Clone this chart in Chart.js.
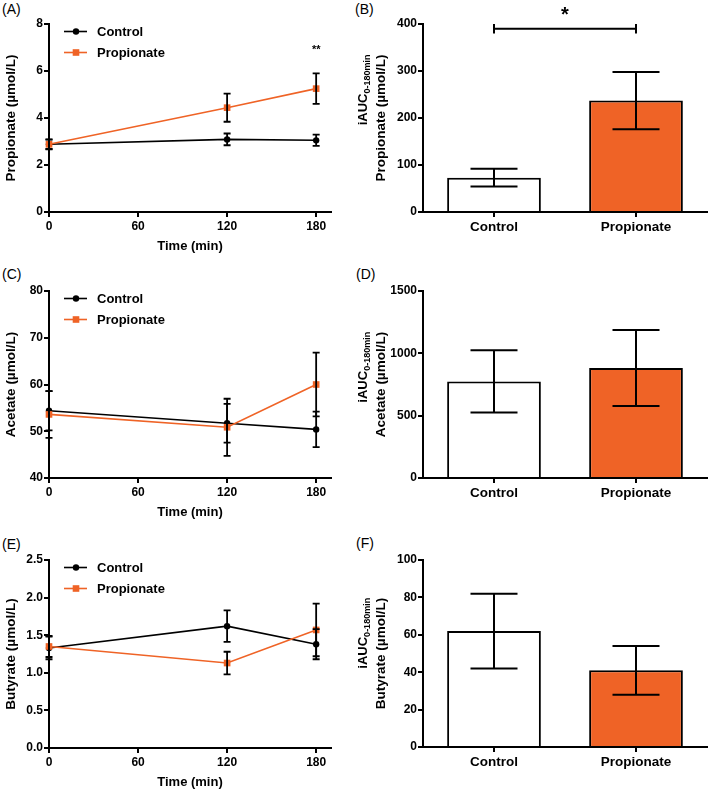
<!DOCTYPE html>
<html>
<head>
<meta charset="utf-8">
<script src="https://cdn.jsdelivr.net/npm/chart.js@4"></script>
<style>
  html, body { margin: 0; padding: 0; background: #fff; }
  body { position: relative; width: 709px; height: 791px; overflow: hidden; }
  canvas { position: absolute; }
  .tag { position: absolute; font: 14px/16px "Liberation Sans", Arial, sans-serif; color: #000; }
</style>
</head>
<body>
<div class="tag" style="left:2px;top:1px">(A)</div>
<div class="tag" style="left:355px;top:1px">(B)</div>
<div class="tag" style="left:2px;top:266px">(C)</div>
<div class="tag" style="left:356px;top:266px">(D)</div>
<div class="tag" style="left:2px;top:536px">(E)</div>
<div class="tag" style="left:356px;top:535px">(F)</div>

<canvas id="chartA" width="354" height="260" style="left:0;top:0"></canvas>
<canvas id="chartB" width="355" height="260" style="left:354px;top:0"></canvas>
<canvas id="chartC" width="354" height="259" style="left:0;top:267px"></canvas>
<canvas id="chartD" width="355" height="259" style="left:354px;top:267px"></canvas>
<canvas id="chartE" width="354" height="260" style="left:0;top:536px"></canvas>
<canvas id="chartF" width="355" height="259" style="left:354px;top:536px"></canvas>

<script>
// Datos
const times = [0, 120, 180];
const timeTicks = [0, 60, 120, 180];
const groups = ['Control', 'Propionate'];

const propCtrl = [2.88, 3.09, 3.05];
const propCtrlErr = [0.21, 0.25, 0.24];
const propTreat = [2.88, 4.44, 5.25];
const propTreatErr = [0.20, 0.60, 0.65];

const aceCtrl = [54.4, 51.7, 50.4];
const aceCtrlErr = [4.2, 4.15, 3.8];
const aceTreat = [53.6, 50.85, 60.0];
const aceTreatErr = [5.0, 6.1, 6.8];

const butCtrl = [1.33, 1.62, 1.38];
const butCtrlErr = [0.15, 0.21, 0.20];
const butTreat = [1.35, 1.13, 1.57];
const butTreatErr = [0.14, 0.15, 0.35];

const aucProp = [73, 237];
const aucPropErr = [19, 61];
const aucAce = [775, 883];
const aucAceErr = [250, 305];
const aucBut = [62, 41];
const aucButErr = [20, 13];

const aucMain = 'iAUC';
const aucSub = '0-180min';

const ORANGE = '#EF6326';
const FONT = '"Liberation Sans", Arial, sans-serif';

Chart.defaults.font.family = FONT;
Chart.defaults.color = '#000';

// Barras de error (media ± error)
const errorBars = {
  id: 'errorBars',
  afterDatasetsDraw(chart) {
    const ctx = chart.ctx;
    const y = chart.scales.y;
    chart.data.datasets.forEach((ds, i) => {
      if (!ds.errors) return;
      const meta = chart.getDatasetMeta(i);
      meta.data.forEach((el, j) => {
        const raw = ds.data[j];
        const v = typeof raw === 'object' ? raw.y : raw;
        const e = ds.errors[j];
        const top = y.getPixelForValue(v + e);
        const bot = y.getPixelForValue(v - e);
        const w = ds.capHalf;
        ctx.save();
        ctx.strokeStyle = '#000';
        ctx.lineWidth = ds.errWidth || 2;
        ctx.beginPath();
        ctx.moveTo(el.x, top); ctx.lineTo(el.x, bot);
        ctx.moveTo(el.x - w, top); ctx.lineTo(el.x + w, top);
        ctx.moveTo(el.x - w, bot); ctx.lineTo(el.x + w, bot);
        ctx.stroke();
        ctx.restore();
      });
    });
  }
};

// Leyenda dentro del área del gráfico
const innerLegend = {
  id: 'innerLegend',
  afterDraw(chart, args, opts) {
    if (!opts || !opts.show) return;
    const ctx = chart.ctx;
    const { left, top } = chart.chartArea;
    chart.data.datasets.forEach((ds, i) => {
      const yy = top + 7.5 + i * 21;
      const x0 = left + 15, x1 = left + 38, xm = left + 27;
      ctx.save();
      ctx.strokeStyle = ds.borderColor;
      ctx.fillStyle = ds.borderColor;
      ctx.lineWidth = 1.6;
      ctx.beginPath(); ctx.moveTo(x0, yy); ctx.lineTo(x1, yy); ctx.stroke();
      if (ds.pointStyle === 'rect') {
        ctx.fillRect(xm - 3.3, yy - 3.3, 6.6, 6.6);
      } else {
        ctx.beginPath(); ctx.arc(xm, yy, 3.2, 0, Math.PI * 2); ctx.fill();
      }
      ctx.fillStyle = '#000';
      ctx.font = 'bold 13px ' + FONT;
      ctx.textBaseline = 'middle';
      ctx.textAlign = 'left';
      ctx.fillText(ds.label, left + 48, yy + 0.5);
      ctx.restore();
    });
  }
};

// Título del eje Y con subíndice (paneles de barras)
const aucTitle = {
  id: 'aucTitle',
  afterDraw(chart, args, opts) {
    if (!opts || !opts.unit) return;
    const ctx = chart.ctx;
    const { top, bottom } = chart.chartArea;
    const cy = (top + bottom) / 2;
    ctx.save();
    ctx.fillStyle = '#000';
    ctx.font = 'bold 13.5px ' + FONT;
    const w2 = ctx.measureText(opts.unit).width;
    ctx.save();
    ctx.translate(26.3, cy);
    ctx.rotate(-Math.PI / 2);
    ctx.textAlign = 'center';
    ctx.textBaseline = 'alphabetic';
    ctx.fillText(opts.unit, 0, 4.8);
    ctx.restore();
    ctx.font = 'bold 13px ' + FONT;
    const wm = ctx.measureText(aucMain).width;
    ctx.font = 'bold 9px ' + FONT;
    const ws = ctx.measureText(aucSub).width;
    const start = w2 / 2 - (wm + ws);
    ctx.translate(8.5, cy);
    ctx.rotate(-Math.PI / 2);
    ctx.textAlign = 'left';
    ctx.font = 'bold 13px ' + FONT;
    ctx.fillText(aucMain, start, 4.6);
    ctx.font = 'bold 9px ' + FONT;
    ctx.fillText(aucSub, start + wm, 7.6);
    ctx.restore();
  }
};

// Marcas de significación
const sigMarks = {
  id: 'sigMarks',
  afterDraw(chart, args, opts) {
    if (!opts || !opts.text) return;
    const ctx = chart.ctx;
    const xs = chart.scales.x, ys = chart.scales.y;
    ctx.save();
    if (opts.bracket) {
      const b = opts.bracket;
      const xa = xs.getPixelForValue(b.from), xb = xs.getPixelForValue(b.to);
      const yy = ys.getPixelForValue(b.y);
      const yt = ys.getPixelForValue(b.y + b.drop), yb = ys.getPixelForValue(b.y - b.drop);
      ctx.strokeStyle = '#000';
      ctx.lineWidth = 2;
      ctx.beginPath();
      ctx.moveTo(xa, yy); ctx.lineTo(xb, yy);
      ctx.moveTo(xa, yt); ctx.lineTo(xa, yb);
      ctx.moveTo(xb, yt); ctx.lineTo(xb, yb);
      ctx.stroke();
    }
    ctx.fillStyle = '#000';
    ctx.font = 'bold ' + opts.size + 'px ' + FONT;
    ctx.textAlign = 'center';
    ctx.textBaseline = 'alphabetic';
    ctx.fillText(opts.text, xs.getPixelForValue(opts.x), ys.getPixelForValue(opts.y) + 0.52 * opts.size);
    ctx.restore();
  }
};

function axisBase(extraGrid) {
  return {
    border: { display: true, color: '#000', width: 2 },
    grid: Object.assign({ drawOnChartArea: false, drawTicks: true, tickLength: 5, color: '#000', lineWidth: 2 }, extraGrid || {}),
  };
}

function lineChart(id, yTitle, yMin, yMax, yStep, dec, ctrl, ctrlErr, treat, treatErr, sig) {
  const config = {
    type: 'line',
    data: {
      datasets: [{
        label: groups[0],
        data: times.map((t, i) => ({ x: t, y: ctrl[i] })),
        errors: ctrlErr,
        borderColor: '#000',
        backgroundColor: '#000',
        borderWidth: 1.6,
        pointStyle: 'circle',
        pointRadius: 3.2,
        pointBorderWidth: 0,
        capHalf: 3.5,
        errWidth: 1.8,
        clip: false,
        order: 1,
      }, {
        label: groups[1],
        data: times.map((t, i) => ({ x: t, y: treat[i] })),
        errors: treatErr,
        borderColor: ORANGE,
        backgroundColor: ORANGE,
        borderWidth: 1.6,
        pointStyle: 'rect',
        pointRadius: 4.7,
        pointBorderWidth: 0,
        capHalf: 3.5,
        errWidth: 1.8,
        clip: false,
        order: 0,
      }],
    },
    options: {
      responsive: false,
      animation: false,
      devicePixelRatio: 1,
      layout: { padding: { top: 24, right: 23, left: 0, bottom: 0 } },
      plugins: {
        legend: { display: false },
        tooltip: { enabled: false },
        innerLegend: { show: true },
        sigMarks: sig || false,
      },
      scales: {
        x: Object.assign(axisBase(), {
          type: 'linear',
          min: 0,
          max: 190,
          afterBuildTicks: s => { s.ticks = timeTicks.map(v => ({ value: v })); },
          ticks: { font: { size: 12, weight: 'bold' }, padding: 2 },
          title: { display: true, text: 'Time (min)', font: { size: 13, weight: 'bold' }, padding: { top: 0, bottom: 6 } },
          afterFit: s => { s.height = 48; },
        }),
        y: Object.assign(axisBase(), {
          min: yMin,
          max: yMax,
          ticks: { stepSize: yStep, font: { size: 12, weight: 'bold' }, padding: 1, callback: v => v.toFixed(dec) },
          title: { display: true, text: yTitle, font: { size: 13.5, weight: 'bold' }, padding: { top: 3, bottom: 0 } },
          afterFit: s => { s.width = 49; },
        }),
      },
    },
    plugins: [errorBars, innerLegend, sigMarks],
  };
  new Chart(document.getElementById(id), config);
}

function barChart(id, unit, yMax, yStep, vals, errs, sig) {
  const config = {
    type: 'bar',
    data: {
      labels: groups,
      datasets: [{
        data: vals,
        errors: errs,
        backgroundColor: ['#fff', ORANGE],
        borderColor: '#000',
        borderWidth: 2,
        borderSkipped: 'start',
        barPercentage: 0.66,
        categoryPercentage: 1,
        capHalf: 23.5,
        errWidth: 2,
      }],
    },
    options: {
      responsive: false,
      animation: false,
      devicePixelRatio: 1,
      layout: { padding: { top: 24, right: 2, left: 0, bottom: 0 } },
      plugins: {
        legend: { display: false },
        tooltip: { enabled: false },
        aucTitle: { unit: unit },
        sigMarks: sig || false,
      },
      scales: {
        x: Object.assign(axisBase({ offset: false }), {
          ticks: { font: { size: 13.5, weight: 'bold' }, padding: 2 },
          afterFit: s => { s.height = 48; },
        }),
        y: Object.assign(axisBase(), {
          min: 0,
          max: yMax,
          ticks: { stepSize: yStep, font: { size: 12, weight: 'bold' }, padding: 1, callback: v => String(v) },
          afterFit: s => { s.width = 69; },
        }),
      },
    },
    plugins: [errorBars, aucTitle, sigMarks],
  };
  new Chart(document.getElementById(id), config);
}

// Renderización
lineChart('chartA', 'Propionate (µmol/L)', 0, 8, 2, 0, propCtrl, propCtrlErr, propTreat, propTreatErr,
  { text: '**', x: 180, y: 7.02, size: 11 });
barChart('chartB', 'Propionate (µmol/L)', 400, 100, aucProp, aucPropErr,
  { text: '*', x: 0.5, y: 428, size: 20, bracket: { from: 0, to: 1, y: 390, drop: 10 } });
lineChart('chartC', 'Acetate (µmol/L)', 40, 80, 10, 0, aceCtrl, aceCtrlErr, aceTreat, aceTreatErr);
barChart('chartD', 'Acetate (µmol/L)', 1500, 500, aucAce, aucAceErr);
lineChart('chartE', 'Butyrate (µmol/L)', 0, 2.5, 0.5, 1, butCtrl, butCtrlErr, butTreat, butTreatErr);
barChart('chartF', 'Butyrate (µmol/L)', 100, 20, aucBut, aucButErr);
</script>
</body>
</html>
